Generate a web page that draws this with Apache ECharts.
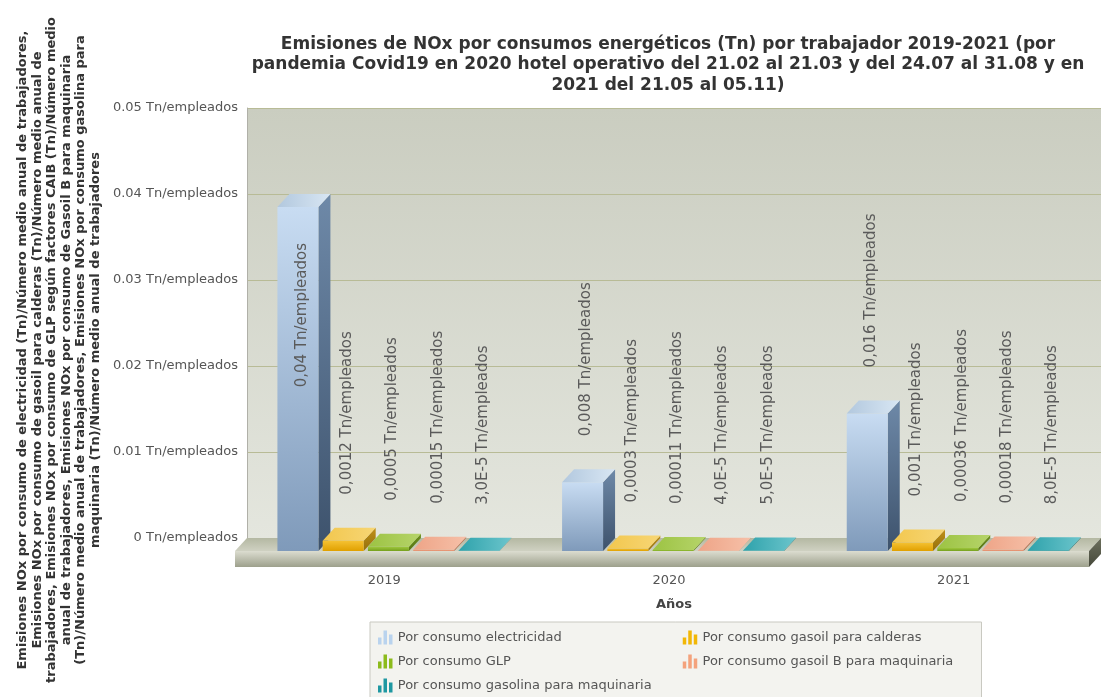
<!DOCTYPE html>
<html>
<head>
<meta charset="utf-8">
<script src="https://cdn.jsdelivr.net/npm/echarts@6/dist/echarts.min.js"></script>
<style>
  html, body { margin: 0; padding: 0; background: #ffffff; }
  #chart { width: 1105px; height: 697px; }
</style>
</head>
<body>
<div id="chart"></div>
<script>
// ---- data ----
const years = ['2019', '2020', '2021'];
const seriesNames = [
  'Por consumo electricidad',
  'Por consumo gasoil para calderas',
  'Por consumo GLP',
  'Por consumo gasoil B para maquinaria',
  'Por consumo gasolina para maquinaria'
];
const electricidad   = [0.04, 0.008, 0.016];
const gasoilCalderas = [0.0012, 0.0003, 0.001];
const glp            = [0.0005, 0.00011, 0.00036];
const gasoilB        = [0.00015, 0.00004, 0.00018];
const gasolina       = [0.00003, 0.00005, 0.00008];
const yTicks = [0, 0.01, 0.02, 0.03, 0.04, 0.05];
const unit = ' Tn/empleados';

const titleLines = [
  'Emisiones de NOx por consumos energéticos (Tn) por trabajador 2019-2021 (por',
  'pandemia Covid19 en 2020 hotel operativo del 21.02 al 21.03 y del 24.07 al 31.08 y en',
  '2021 del 21.05 al 05.11)'
];
const yNameLines = [
  'Emisiones NOx por consumo de electricidad (Tn)/Número medio anual de trabajadores,',
  'Emisiones NOx por consumo de gasoil para calderas (Tn)/Número medio anual de',
  'trabajadores, Emisiones NOx por consumo de GLP según factores CAIB (Tn)/Número medio',
  'anual de trabajadores, Emisiones NOx por consumo de Gasoil B para maquinaria',
  '(Tn)/Número medio anual de trabajadores, Emisiones NOx por consumo gasolina para',
  'maquinaria (Tn)/Número medio anual de trabajadores'
];
const xName = 'Años';

const allSeries = [electricidad, gasoilCalderas, glp, gasoilB, gasolina];

// ---- look ----
const FONT = '"DejaVu Sans", Verdana, sans-serif';
const DX = 12;           // depth offset (px), front plane shifted left
const DY = 13;           // depth offset (px), front plane shifted down
const BAR_W = 0.144;     // bar width as fraction of band
const BAR_PITCH = 0.159; // distance between bars of a group, fraction of band
const GROUP_SHIFT = 0.039;
const LABEL_GAP = 46;

const palette = [
  { legend: '#b9d3ee', front: ['#c8dcf2', '#7f9aba'], top: ['#b2c8de', '#d8e6f3'], side: ['#6e89a8', '#3d526c'] },
  { legend: '#f2b705', front: ['#f5c233', '#e0a000'], top: ['#f2c74e', '#f7d675'], side: ['#c09018', '#94700c'] },
  { legend: '#8cbb1c', front: ['#9fc83e', '#76a01e'], top: ['#9cc343', '#b6d46a'], side: ['#6e921c', '#567414'] },
  { legend: '#f4a27c', front: ['#f3a888', '#df8a68'], top: ['#eea487', '#f6c0a8'], side: ['#c97b5c', '#a86246'] },
  { legend: '#1e98a2', front: ['#2ca4ac', '#17858d'], top: ['#2ea2ab', '#6cc5cc'], side: ['#157880', '#0f5e64'] }
];

function vgrad(c) {
  return new echarts.graphic.LinearGradient(0, 0, 0, 1, [
    { offset: 0, color: c[0] }, { offset: 1, color: c[1] }
  ]);
}
function hgrad(c) {
  return new echarts.graphic.LinearGradient(0, 0, 1, 0, [
    { offset: 0, color: c[0] }, { offset: 1, color: c[1] }
  ]);
}

// value label text, e.g. "0,0012" or "3,0E-5"
function fmtValue(v) {
  if (v < 0.0001) return (v * 1e5).toFixed(1).replace('.', ',') + 'E-5';
  return String(v).replace('.', ',');
}
function fmtTick(v) {
  return String(parseFloat(v.toFixed(4))) + unit;
}

// 3D-looking bar: front face, right side face, top face, plus rotated value label
function makeBarRenderer(s) {
  return function (params, api) {
    const cat = api.value(0);
    const v = api.value(1);
    const back = api.coord([cat, v]);
    const base = api.coord([cat, 0]);
    const band = api.size([1, 0])[0];
    const w = band * BAR_W;
    const pitch = band * BAR_PITCH;
    const groupW = pitch * 4 + w;
    const cx = back[0] - DX + band * GROUP_SHIFT;
    const x0 = cx - groupW / 2 + s * pitch;
    const x1 = x0 + w;
    const yT = back[1] + DY;
    const yB = base[1] + DY;
    const c = palette[s];

    const text = fmtValue(v) + unit;
    const estLen = text.length * 9;
    const lx = (x0 + x1) / 2 + 4;
    const inside = (yT - LABEL_GAP - estLen) < params.coordSys.y;
    const label = {
      type: 'text',
      x: lx,
      y: inside ? yT + 36 : yT - LABEL_GAP,
      rotation: Math.PI / 2,
      style: {
        text: text,
        font: '15px ' + FONT,
        fill: '#5a5a5a',
        textAlign: inside ? 'right' : 'left',
        textVerticalAlign: 'middle',
        align: inside ? 'right' : 'left',
        verticalAlign: 'middle'
      },
      z2: 10
    };

    return {
      type: 'group',
      children: [
        {
          type: 'polygon',
          shape: { points: [[x1, yT], [x1 + DX, yT - DY], [x1 + DX, yB - DY], [x1, yB]] },
          style: { fill: vgrad(c.side) }
        },
        {
          type: 'rect',
          shape: { x: x0, y: yT, width: w, height: yB - yT },
          style: { fill: vgrad(c.front) }
        },
        {
          type: 'polygon',
          shape: { points: [[x0, yT], [x1, yT], [x1 + DX, yT - DY], [x0 + DX, yT - DY]] },
          style: { fill: hgrad(c.top) }
        },
        label
      ]
    };
  };
}

// floor slab under the bars
function renderFloor(params) {
  const g = params.coordSys;
  const L = g.x, R = g.x + g.width, B = g.y + g.height;
  const T = 16;
  return {
    type: 'group',
    children: [
      {
        type: 'polygon',
        shape: { points: [[L, B], [R, B], [R - DX, B + DY], [L - DX, B + DY]] },
        style: { fill: vgrad(['#b4b8a2', '#cfd1c2']) }
      },
      {
        type: 'rect',
        shape: { x: L - DX, y: B + DY, width: g.width, height: T },
        style: { fill: vgrad(['#dcddd0', '#9da08c']) }
      },
      {
        type: 'polygon',
        shape: { points: [[R - DX, B + DY], [R, B], [R, B + T], [R - DX, B + DY + T]] },
        style: { fill: vgrad(['#6d705e', '#45483a']) }
      }
    ]
  };
}

const chart = echarts.init(document.getElementById('chart'), null, { renderer: 'canvas' });

const series = [{
  type: 'custom',
  name: '__floor',
  silent: true,
  z: 1,
  data: [[0, 0]],
  encode: { x: 0, y: 1 },
  renderItem: renderFloor
}];
allSeries.forEach(function (arr, s) {
  series.push({
    type: 'custom',
    name: seriesNames[s],
    z: 2 + s,
    itemStyle: { color: palette[s].legend },
    encode: { x: 0, y: 1 },
    data: years.map(function (_, i) { return [i, arr[i]]; }),
    renderItem: makeBarRenderer(s)
  });
});

const legendIcon = 'path://M0,7h3.5v7h-3.5z M5.5,0h3.5v14h-3.5z M11,4h3.5v10h-3.5z';

chart.setOption({
  animation: false,
  backgroundColor: '#ffffff',
  title: {
    text: titleLines.join('\n'),
    left: 668,
    top: 34,
    padding: 0,
    textAlign: 'center',
    textStyle: { fontFamily: FONT, fontSize: 17, fontWeight: 'bold', color: '#333333', lineHeight: 20.5 }
  },
  grid: {
    left: 247, right: 4, top: 108, bottom: 159,
    show: true,
    borderWidth: 0,
    backgroundColor: new echarts.graphic.LinearGradient(0, 0, 0, 1, [
      { offset: 0, color: '#cacdc0' }, { offset: 1, color: '#e4e6de' }
    ])
  },
  xAxis: {
    type: 'category',
    data: years,
    name: xName,
    nameLocation: 'middle',
    nameGap: 60,
    nameTextStyle: { fontFamily: FONT, fontSize: 13, fontWeight: 'bold', color: '#444444' },
    axisLine: { show: false },
    axisTick: { show: false },
    splitLine: { show: false },
    axisLabel: { margin: 36, fontFamily: FONT, fontSize: 13, color: '#555555', padding: [0, 10, 0, 0] }
  },
  yAxis: {
    type: 'value',
    min: yTicks[0],
    max: yTicks[yTicks.length - 1],
    interval: yTicks[1] - yTicks[0],
    axisLine: { show: true, lineStyle: { color: '#b0b0a8', width: 1 } },
    axisTick: { show: false },
    axisLabel: { margin: 9, fontFamily: FONT, fontSize: 13, color: '#555555', formatter: fmtTick },
    splitLine: { show: true, lineStyle: { color: '#b8bb96', width: 1 } }
  },
  legend: {
    left: 370,
    top: 622,
    width: 603,
    padding: [8, 10, 6, 8],
    itemGap: 9,
    itemWidth: 15,
    itemHeight: 14,
    icon: legendIcon,
    backgroundColor: '#f3f3ef',
    borderColor: '#c9c9c1',
    borderWidth: 1,
    textStyle: { fontFamily: FONT, fontSize: 13, color: '#555555', lineHeight: 15, width: 276 },
    data: seriesNames.map(function (n, i) {
      return (i % 2 === 1) ? { name: n, textStyle: { width: 269 } } : { name: n };
    })
  },
  graphic: [{
    type: 'text',
    x: 59,
    y: 350,
    rotation: Math.PI / 2,
    style: {
      text: yNameLines.join('\n'),
      font: 'bold 13px ' + FONT,
      fill: '#333333',
      textAlign: 'center',
      textVerticalAlign: 'middle',
      align: 'center',
      verticalAlign: 'middle',
      lineHeight: 14.5
    }
  }],
  series: series
});
</script>
</body>
</html>
